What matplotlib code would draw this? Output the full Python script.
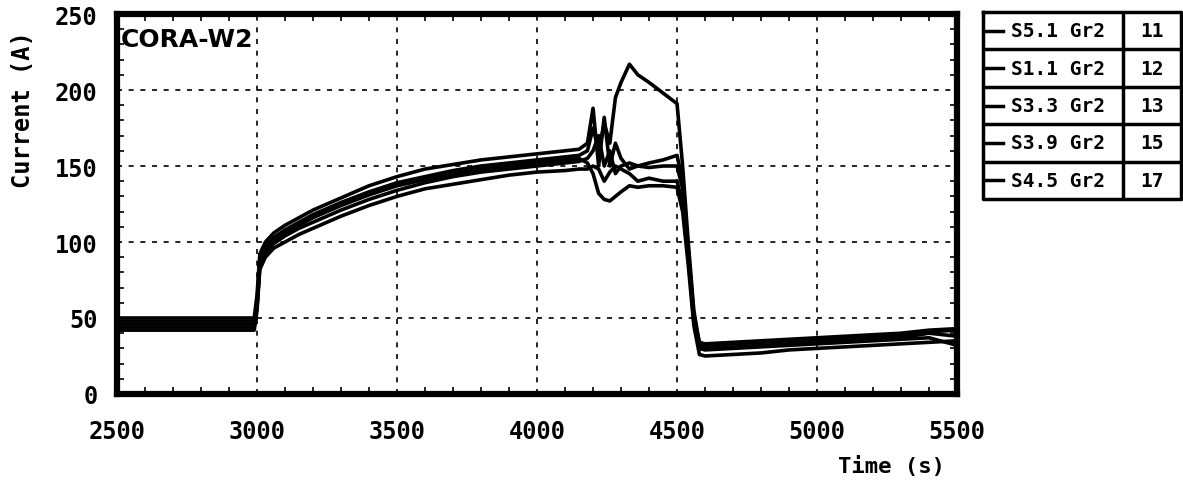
import matplotlib.pyplot as plt
import numpy as np

plt.rcParams["font.family"] = ["DejaVu Sans Mono", "DejaVu Sans"]
plt.rcParams["font.weight"] = "bold"
plt.rcParams["axes.labelweight"] = "bold"

# time axis (s) and current (A)
time_s = [2500, 2990, 3000, 3010, 3030, 3060, 3100, 3150, 3200, 3300, 3400, 3500,
          3600, 3700, 3800, 3900, 4000, 4100, 4150, 4180, 4200, 4220, 4240, 4260,
          4280, 4300, 4330, 4360, 4400, 4450, 4500, 4520, 4540, 4560, 4580, 4600,
          4700, 4800, 4900, 5000, 5100, 5200, 5300, 5400, 5500]

s5_1 = [48, 48, 60, 88, 97, 103, 108, 113, 118, 126, 133, 139,
        143, 147, 150, 152, 154, 156, 157, 160, 175, 160, 178, 165,
        195, 205, 217, 210, 205, 198, 191, 150, 100, 55, 33, 32,
        33, 34, 35, 36, 37, 38, 39, 41, 42]
s1_1 = [50, 50, 65, 92, 100, 106, 111, 116, 121, 129, 137, 143,
        148, 151, 154, 156, 158, 160, 161, 165, 188, 150, 182, 150,
        165, 155, 148, 150, 152, 154, 157, 140, 95, 50, 34, 33,
        34, 35, 36, 37, 38, 39, 40, 42, 43]
s3_3 = [46, 46, 58, 86, 95, 101, 106, 111, 116, 124, 131, 137,
        141, 145, 148, 150, 152, 154, 155, 152, 145, 132, 128, 127,
        130, 133, 137, 136, 137, 137, 136, 120, 85, 45, 26, 25,
        26, 27, 29, 30, 31, 32, 33, 34, 35]
s3_9 = [42, 42, 55, 82, 90, 96, 100, 105, 109, 117, 124, 130,
        135, 138, 141, 144, 146, 147, 148, 148, 150, 148, 140, 146,
        150, 148, 145, 140, 142, 140, 140, 125, 90, 48, 30, 29,
        30, 31, 32, 33, 34, 35, 36, 37, 32]
s4_5 = [44, 44, 57, 84, 93, 99, 104, 109, 113, 121, 128, 134,
        139, 143, 146, 148, 150, 152, 153, 155, 160, 170, 150, 160,
        145, 150, 152, 150, 149, 150, 150, 135, 92, 52, 31, 30,
        31, 32, 33, 34, 35, 36, 37, 40, 38]

names = ["S5.1 Gr2", "S1.1 Gr2", "S3.3 Gr2", "S3.9 Gr2", "S4.5 Gr2"]
channels = ["11", "12", "13", "15", "17"]
series = [s5_1, s1_1, s3_3, s3_9, s4_5]

fig = plt.figure(figsize=(11.83, 4.81), dpi=100)
ax = fig.add_axes([0.0989, 0.1788, 0.7101, 0.79])

for vals in series:
    ax.plot(time_s, vals, color="black", lw=2.6)

ax.set_xlim(2500, 5500)
ax.set_ylim(0, 250)
ax.set_xticks(np.arange(2500, 5501, 500))
ax.set_yticks(np.arange(0, 251, 50))
ax.set_xticks(np.arange(2500, 5501, 100), minor=True)
ax.set_yticks(np.arange(0, 251, 10), minor=True)
ax.grid(True, which="major", color="black", linestyle=(0, (3, 4)), lw=1.2)
ax.tick_params(which="both", direction="in", top=True, right=True, color="black")
ax.tick_params(which="major", length=0, labelsize=17)
ax.tick_params(axis="x", which="major", pad=18)
ax.tick_params(axis="y", which="major", pad=14)
ax.tick_params(which="minor", length=5, width=1.2)
for sp in ax.spines.values():
    sp.set_linewidth(4.5)

ax.set_ylabel("Current (A)", fontsize=17)
ax.yaxis.set_label_coords(-0.098, 0.75)
ax.set_xlabel("Time (s)", fontsize=16, ha="right")
ax.xaxis.set_label_coords(0.986, -0.16)
ax.text(0.004, 0.965, "CORA-W2", transform=ax.transAxes, fontsize=18,
        va="top", ha="left", family="DejaVu Sans", fontweight="bold")

# legend table on the right
lg = fig.add_axes([983 / 1183, (481 - 200) / 481, 198 / 1183, 187 / 481])
lg.set_xlim(0, 198)
lg.set_ylim(187, 0)
lg.axis("off")
row_h = 187 / 5
lg.plot([0, 198, 198, 0, 0], [0, 0, 187, 187, 0], color="black", lw=2.5,
        clip_on=False)
lg.plot([140, 140], [0, 187], color="black", lw=2.5)
for i in range(1, 5):
    lg.plot([0, 198], [i * row_h, i * row_h], color="black", lw=2.5)
for i, (nm, ch) in enumerate(zip(names, channels)):
    yc = (i + 0.5) * row_h
    lg.plot([0, 20], [yc, yc], color="black", lw=2.5)
    lg.text(28, yc, nm, fontsize=14, va="center", ha="left")
    lg.text(169, yc, ch, fontsize=14, va="center", ha="center")

fig.savefig("out.png", dpi=100)
